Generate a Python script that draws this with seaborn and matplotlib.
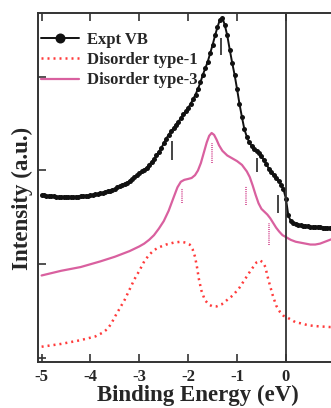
import numpy as np
import matplotlib
matplotlib.use("Agg")
import matplotlib.pyplot as plt
import seaborn as sns

# ── data ────────────────────────────────────────────────────────────────────
# experimental valence band, sampled every 0.05 eV from -5 to 1 eV
expt_intensity = [
    1.74, 1.74, 1.73, 1.73, 1.73, 1.73, 1.72, 1.72, 1.72, 1.72,
    1.72, 1.72, 1.72, 1.72, 1.72, 1.72, 1.73, 1.73, 1.73, 1.73,
    1.74, 1.74, 1.75, 1.75, 1.76, 1.76, 1.77, 1.78, 1.78, 1.79,
    1.80, 1.82, 1.83, 1.84, 1.86, 1.87, 1.89, 1.91, 1.93, 1.95,
    1.97, 1.99, 2.01, 2.03, 2.06, 2.09, 2.12, 2.16, 2.20, 2.24,
    2.29, 2.34, 2.38, 2.42, 2.45, 2.49, 2.52, 2.56, 2.60, 2.63,
    2.67, 2.71, 2.76, 2.81, 2.87, 2.94, 3.02, 3.09, 3.16, 3.25,
    3.34, 3.44, 3.53, 3.61, 3.63, 3.55, 3.44, 3.29, 3.15, 3.02,
    2.87, 2.71, 2.57, 2.44, 2.36, 2.30, 2.26, 2.23, 2.21, 2.19,
    2.15, 2.11, 2.07, 2.02, 1.98, 1.95, 1.92, 1.89, 1.85, 1.80,
    1.70, 1.52, 1.46, 1.44, 1.43, 1.42, 1.42, 1.41, 1.41, 1.41,
    1.40, 1.40, 1.40, 1.40, 1.40, 1.39, 1.39, 1.39, 1.39, 1.39,
    1.39,
]
expt_be = np.linspace(-5.0, 1.0, len(expt_intensity))

type1_be = [-5.0, -4.6, -4.2, -3.9, -3.75, -3.65, -3.57, -3.5, -3.4, -3.3,
            -3.2, -3.1, -3.0, -2.9, -2.8, -2.7, -2.6, -2.45, -2.3, -2.15,
            -2.05, -1.97, -1.91, -1.86, -1.82, -1.78, -1.73, -1.66, -1.58,
            -1.5, -1.42, -1.32, -1.2, -1.08, -0.95, -0.85, -0.75, -0.67,
            -0.6, -0.53, -0.47, -0.42, -0.38, -0.33, -0.27, -0.2, -0.12,
            -0.05, 0.0, 0.1, 0.2, 0.3, 0.45, 0.6, 0.9, 1.2, 1.5]
type1_intensity = [0.12, 0.15, 0.19, 0.23, 0.27, 0.31, 0.37, 0.44, 0.53, 0.62,
                   0.73, 0.84, 0.93, 1.03, 1.10, 1.15, 1.18, 1.21, 1.23, 1.24,
                   1.23, 1.21, 1.16, 1.08, 0.97, 0.84, 0.72, 0.62, 0.57,
                   0.55, 0.55, 0.57, 0.62, 0.67, 0.75, 0.83, 0.91, 0.97,
                   1.02, 1.04, 1.02, 0.97, 0.88, 0.78, 0.67, 0.56, 0.49,
                   0.45, 0.44, 0.41, 0.38, 0.37, 0.35, 0.34, 0.33, 0.33, 0.33]

type3_be = [-5.0, -4.6, -4.2, -3.8, -3.5, -3.2, -3.0, -2.9, -2.8, -2.7,
            -2.6, -2.5, -2.4, -2.3, -2.22, -2.15, -2.08, -2.0, -1.93, -1.86,
            -1.8, -1.74, -1.68, -1.62, -1.57, -1.52, -1.47, -1.42, -1.37,
            -1.3, -1.2, -1.1, -1.0, -0.9, -0.8, -0.74, -0.68, -0.62, -0.56,
            -0.5, -0.44, -0.38, -0.32, -0.26, -0.2, -0.14, -0.07, 0.0, 0.1,
            0.2, 0.3, 0.4, 0.5, 0.6, 0.7, 0.8, 0.9, 1.0, 1.2, 1.5]
type3_intensity = [0.88, 0.93, 0.97, 1.03, 1.08, 1.14, 1.19, 1.22, 1.26, 1.31,
                   1.38, 1.46, 1.57, 1.71, 1.82, 1.88, 1.90, 1.91, 1.92, 1.95,
                   2.00, 2.08, 2.19, 2.30, 2.37, 2.40, 2.38, 2.33, 2.27,
                   2.21, 2.16, 2.13, 2.10, 2.06, 1.99, 1.93, 1.84, 1.74, 1.65,
                   1.59, 1.56, 1.53, 1.49, 1.44, 1.39, 1.35, 1.31, 1.29, 1.26,
                   1.24, 1.23, 1.22, 1.21, 1.21, 1.22, 1.24, 1.26, 1.28, 1.31,
                   1.33]

# peak markers: position, lower end, upper end
expt_marks_be = [-2.34, -1.33, -0.60, -0.16]
expt_marks_lo = [2.11, 3.23, 1.98, 1.55]
expt_marks_hi = [2.31, 3.41, 2.13, 1.74]

type3_marks_be = [-2.12, -1.52, -0.82, -0.34]
type3_marks_lo = [1.65, 2.08, 1.63, 1.21]
type3_marks_hi = [1.81, 2.29, 1.83, 1.44]

x_ticks = [-5, -4, -3, -2, -1, 0]
x_ticklabels = ["-5", "-4", "-3", "-2", "-1", "0"]
labels = ["Expt VB", "Disorder type-1", "Disorder type-3"]

C_EXPT = "#111111"
C_T1 = "#ff3b3b"
C_T3 = "#d9609f"

sns.set_style("ticks")
plt.rcParams["font.family"] = ["Liberation Serif", "DejaVu Serif"]
plt.rcParams["font.weight"] = "bold"

fig = plt.figure(figsize=(3.31, 4.08), dpi=100)
W, H = 331, 408
# axes: left 37.7px, bottom 362px, top 13px; extends past right edge
ax = fig.add_axes([37.7 / W, (H - 362) / H, 321 / W, (362 - 13) / H])

sns.lineplot(x=type1_be, y=type1_intensity, ax=ax, color=C_T1, lw=1.8,
             ls=(0, (0.8, 1.6)), label=labels[1], legend=False)
sns.lineplot(x=type3_be, y=type3_intensity, ax=ax, color=C_T3, lw=1.6,
             label=labels[2], legend=False)
sns.lineplot(x=expt_be, y=expt_intensity, ax=ax, color=C_EXPT, lw=1.4,
             marker="o", markersize=3.6, markeredgewidth=0,
             label=labels[0], legend=False)

ax.vlines(expt_marks_be, expt_marks_lo, expt_marks_hi, color="#444444", lw=1.4)
ax.vlines(type3_marks_be, type3_marks_lo, type3_marks_hi, color=C_T3,
          lw=1.4, ls=(0, (0.5, 0.6)))
ax.axvline(0, color="#333333", lw=1.3)

ax.set_xlim(-5.08, 1.49)
ax.set_ylim(-0.043, 3.68)
ax.set_xticks(x_ticks)
ax.set_xticklabels(x_ticklabels)
ax.set_yticks([0, 1, 2, 3])
ax.set_yticklabels([])
ax.tick_params(axis="both", direction="in", length=6, width=1.2,
               color="#333333", labelsize=12, pad=5)
ax.tick_params(axis="x", top=True)
for s in ["left", "bottom", "top"]:
    ax.spines[s].set_linewidth(1.4)
    ax.spines[s].set_color("#333333")
ax.spines["right"].set_visible(False)

ax.set_xlabel("Binding Energy (eV)", fontsize=16.5, fontweight="bold",
              labelpad=0)
ax.set_ylabel("Intensity (a.u.)", fontsize=16.5, fontweight="bold")
ax.yaxis.set_label_coords(-0.014, 0.47)

h, l = ax.get_legend_handles_labels()
order = [l.index(n) for n in labels]
ax.legend([h[i] for i in order], labels, loc="upper left",
          bbox_to_anchor=(0.0, 0.955), frameon=False,
          handlelength=2.3, handletextpad=0.45, labelspacing=0.25,
          borderpad=0.1, borderaxespad=0.1, markerscale=2.0,
          prop={"weight": "bold", "size": 12})

fig.savefig("out.png", dpi=100)
